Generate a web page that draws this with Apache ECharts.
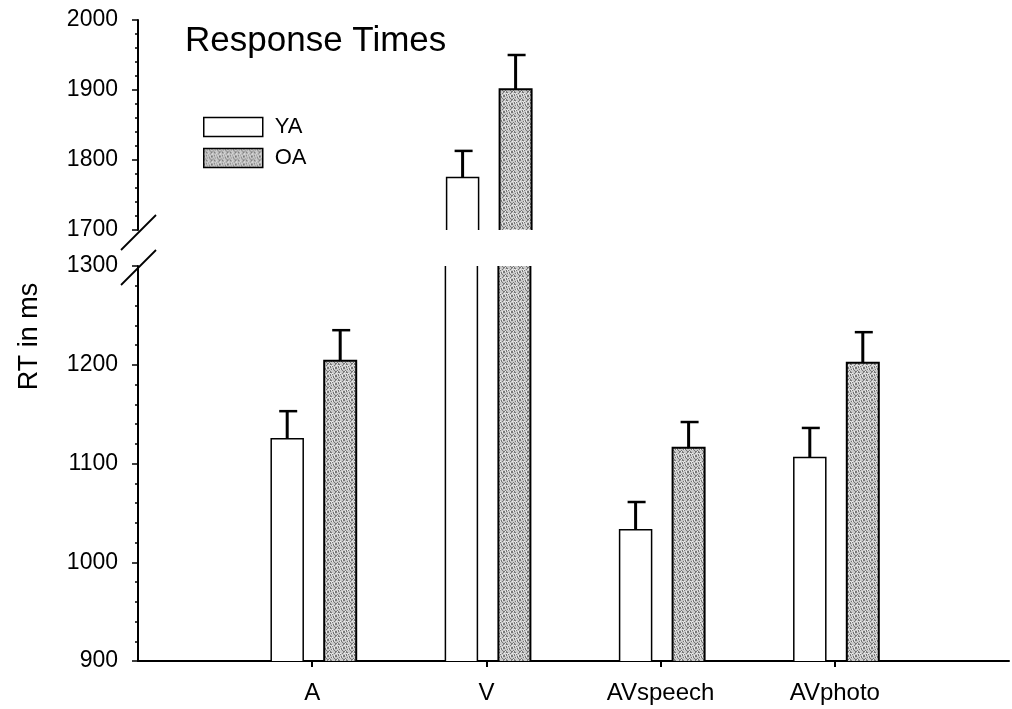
<!DOCTYPE html>
<html>
<head>
<meta charset="utf-8">
<title>Response Times</title>
<script src="https://cdn.jsdelivr.net/npm/echarts@6/dist/echarts.min.js"></script>
<style>
  html, body { margin: 0; padding: 0; background: #fff; }
  #chart { width: 1012px; height: 709px; }
</style>
</head>
<body>
<div id="chart"></div>
<script>
// Conditions on the x axis
const groups = ['A', 'V', 'AVspeech', 'AVphoto'];
// Mean response times (ms) and their error bars, young adults
const yaMeans = [1125, 1775, 1033, 1106];
const yaErrors = [28, 38, 28, 30];
// Mean response times (ms) and their error bars, older adults
const oaMeans = [1204, 1901, 1116, 1202];
const oaErrors = [31, 49, 26, 31];
// Broken value axis: upper and lower segments
const upperRange = [1700, 2000];
const lowerRange = [900, 1300];
const tickStep = 100;

const FONT = "'Liberation Sans', Arial, Helvetica, sans-serif";
const categories = [''].concat(groups, ['']);

// Stippled grey fill used for the OA bars
function makeStipple() {
  const c = document.createElement('canvas');
  c.width = 8; c.height = 8;
  const ctx = c.getContext('2d');
  ctx.fillStyle = '#c9c9c9';
  ctx.fillRect(0, 0, 8, 8);
  for (let y = 0; y < 8; y++) {
    for (let x = 0; x < 8; x++) {
      const k = (x * 3 + y * 5 + ((x * y) % 3)) % 7;
      if (k < 2) { ctx.fillStyle = '#777777'; ctx.fillRect(x, y, 1, 1); }
      else if (k === 4) { ctx.fillStyle = '#ececec'; ctx.fillRect(x, y, 1, 1); }
    }
  }
  return c;
}
const stipple = { image: makeStipple(), repeat: 'repeat' };

const BAR_W = 32;

// One bar group drawn inside one axis segment; bars running past the
// segment are cut open at the edge, error bars only where they fit.
function barSeries(name, means, errors, gridIndex, range, offset, fill, lineWidth) {
  return {
    type: 'custom',
    name: name,
    xAxisIndex: gridIndex,
    yAxisIndex: gridIndex,
    clip: false,
    itemStyle: { color: fill, borderColor: '#000', borderWidth: lineWidth },
    encode: { x: 0, y: 1 },
    data: groups.map((g, i) => [i + 1, means[i], errors[i]]),
    renderItem: function (params, api) {
      const cat = api.value(0), val = api.value(1), err = api.value(2);
      if (val <= range[0]) return null;
      const cs = params.coordSys;
      const bottom = cs.y + cs.height;
      const pt = api.coord([cat, val]);
      const clipped = val > range[1];
      const top = clipped ? cs.y : pt[1];
      const cx = pt[0] + offset;
      const x0 = cx - BAR_W / 2, x1 = cx + BAR_W / 2;
      const children = [
        { type: 'rect', shape: { x: x0, y: top, width: BAR_W, height: bottom - top },
          style: { fill: fill, stroke: null } }
      ];
      if (clipped) {
        children.push({ type: 'line', shape: { x1: x0, y1: bottom, x2: x0, y2: top },
          style: { stroke: '#000', lineWidth: lineWidth } });
        children.push({ type: 'line', shape: { x1: x1, y1: bottom, x2: x1, y2: top },
          style: { stroke: '#000', lineWidth: lineWidth } });
      } else {
        children.push({ type: 'polyline',
          shape: { points: [[x0, bottom], [x0, top], [x1, top], [x1, bottom]] },
          style: { stroke: '#000', lineWidth: lineWidth, fill: null } });
        const ep = api.coord([cat, val + err]);
        children.push({ type: 'line', shape: { x1: cx, y1: top, x2: cx, y2: ep[1] },
          style: { stroke: '#000', lineWidth: 3 } });
        children.push({ type: 'line', shape: { x1: cx - 8, y1: ep[1], x2: cx + 10, y2: ep[1] },
          style: { stroke: '#000', lineWidth: 2.5 } });
      }
      return { type: 'group', children: children };
    }
  };
}

function valueAxis(gridIndex, range) {
  return {
    type: 'value',
    gridIndex: gridIndex,
    min: range[0],
    max: range[1],
    interval: tickStep,
    splitLine: { show: false },
    axisLine: { show: true, lineStyle: { color: '#000', width: 2 } },
    axisTick: { show: true, inside: false, length: 6, lineStyle: { color: '#000', width: 1.5 } },
    minorTick: { show: true, splitNumber: 5, length: 3, lineStyle: { color: '#000', width: 1.5 } },
    axisLabel: { color: '#000', fontFamily: FONT, fontSize: 23, margin: 20,
      formatter: (v) => String(v) }
  };
}

function categoryAxis(gridIndex, visible) {
  return {
    type: 'category',
    gridIndex: gridIndex,
    data: categories,
    boundaryGap: false,
    show: visible,
    axisLine: { show: visible, lineStyle: { color: '#000', width: 2 } },
    axisTick: { show: visible, length: 6, alignWithLabel: true,
      interval: (i, v) => v !== '', lineStyle: { color: '#000', width: 2 } },
    axisLabel: { show: visible, color: '#000', fontFamily: FONT, fontSize: 24, margin: 20,
      interval: 0 },
    splitLine: { show: false }
  };
}

const chart = echarts.init(document.getElementById('chart'), null, { renderer: 'canvas' });

const option = {
  animation: false,
  backgroundColor: '#fff',
  textStyle: { fontFamily: FONT },
  title: {
    text: 'Response Times',
    left: 180, top: 19,
    textStyle: { fontFamily: FONT, fontSize: 35, fontWeight: 'normal', color: '#000' }
  },
  legend: {
    orient: 'vertical',
    left: 198, top: 111,
    itemWidth: 59, itemHeight: 19, itemGap: 9,
    icon: 'rect',
    textStyle: { fontFamily: FONT, fontSize: 22, color: '#000', padding: [0, 0, 0, 7] },
    data: [
      { name: 'YA', itemStyle: { color: '#fff', borderColor: '#000', borderWidth: 1.5 } },
      { name: 'OA', itemStyle: { color: stipple, borderColor: '#000', borderWidth: 1.5 } }
    ]
  },
  grid: [
    { left: 138, top: 20, width: 885, height: 210 },
    { left: 138, top: 266, width: 885, height: 395 }
  ],
  xAxis: [categoryAxis(0, false), categoryAxis(1, true)],
  yAxis: [valueAxis(0, upperRange), valueAxis(1, lowerRange)],
  series: [
    barSeries('YA', yaMeans, yaErrors, 0, upperRange, -25, '#fff', 1.5),
    barSeries('OA', oaMeans, oaErrors, 0, upperRange, 28, stipple, 2),
    barSeries('YA', yaMeans, yaErrors, 1, lowerRange, -25, '#fff', 1.5),
    barSeries('OA', oaMeans, oaErrors, 1, lowerRange, 28, stipple, 2)
  ]
};
chart.setOption(option);

// Break marks on the value axis and the shared axis title
const upEnd = chart.convertToPixel({ gridIndex: 0 }, [0, upperRange[0]]);
const loEnd = chart.convertToPixel({ gridIndex: 1 }, [0, lowerRange[1]]);
const upTop = chart.convertToPixel({ gridIndex: 0 }, [0, upperRange[1]]);
const loBottom = chart.convertToPixel({ gridIndex: 1 }, [0, lowerRange[0]]);
const slash = (p, dy) => ({
  type: 'line',
  shape: { x1: p[0] - 17, y1: p[1] + dy + 17, x2: p[0] + 18, y2: p[1] + dy - 18 },
  style: { stroke: '#000', lineWidth: 1.8 }
});
chart.setOption({
  graphic: [
    slash(upEnd, 3),
    slash(loEnd, 2),
    {
      type: 'text',
      x: 30, y: (upTop[1] + loBottom[1]) / 2 - 4,
      rotation: Math.PI / 2,
      style: { text: 'RT in ms', fontFamily: FONT, fontSize: 27, fill: '#000',
        align: 'center', verticalAlign: 'middle' }
    }
  ]
});
</script>
</body>
</html>
